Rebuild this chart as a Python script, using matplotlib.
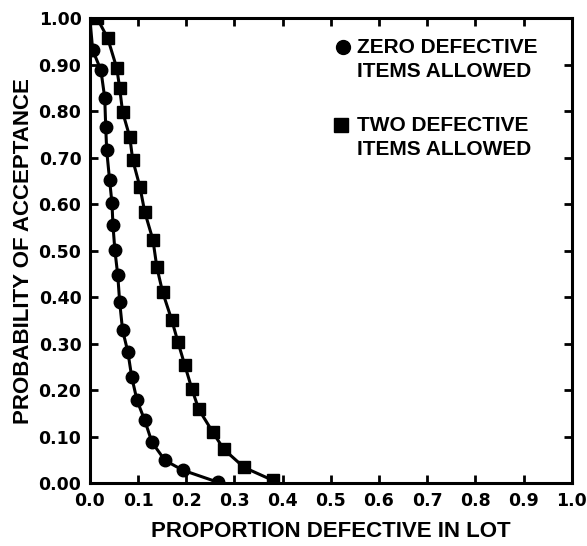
import matplotlib

matplotlib.use("Agg")
import matplotlib.pyplot as plt

# proportion defective vs probability of acceptance
zero_p = [0.0, 0.006, 0.023, 0.031, 0.033, 0.035, 0.041, 0.046, 0.048, 0.052, 0.058,
          0.062, 0.068, 0.079, 0.087, 0.098, 0.114, 0.129, 0.156, 0.193, 0.266]
zero_pa = [1.0, 0.931, 0.888, 0.828, 0.766, 0.716, 0.652, 0.602, 0.555, 0.501, 0.447,
           0.389, 0.329, 0.282, 0.228, 0.178, 0.135, 0.088, 0.049, 0.028, 0.002]

two_p = [0.015, 0.037, 0.056, 0.062, 0.068, 0.083, 0.089, 0.104, 0.114, 0.131, 0.139,
         0.151, 0.170, 0.183, 0.197, 0.212, 0.226, 0.255, 0.278, 0.320, 0.380]
two_pa = [1.0, 0.957, 0.892, 0.849, 0.798, 0.744, 0.695, 0.637, 0.583, 0.523, 0.465,
          0.411, 0.351, 0.303, 0.254, 0.202, 0.159, 0.110, 0.073, 0.034, 0.006]

x_ticks = [0.0, 0.1, 0.2, 0.3, 0.4, 0.5, 0.6, 0.7, 0.8, 0.9, 1.0]
y_ticks = [0.0, 0.1, 0.2, 0.3, 0.4, 0.5, 0.6, 0.7, 0.8, 0.9, 1.0]

label_font = {"family": "Liberation Sans", "weight": "bold", "size": 16}
tick_font = {"family": "DejaVu Sans", "weight": "bold", "size": 12.5}

fig = plt.figure(figsize=(5.87, 5.46), dpi=100)
ax = fig.add_axes([0.153, 0.115, 0.821, 0.852])

ax.plot(zero_p, zero_pa, color="black", lw=2.2, marker="o", ms=9, zorder=3)
ax.plot(two_p, two_pa, color="black", lw=2.2, marker="s", ms=9, zorder=3)

ax.set_xlim(0, 1.0)
ax.set_ylim(0, 1.0)
ax.set_xticks(x_ticks)
ax.set_yticks(y_ticks)
ax.set_xticklabels([f"{v:.1f}" for v in x_ticks], fontdict=tick_font)
ax.set_yticklabels([f"{v:.2f}" for v in y_ticks], fontdict=tick_font)
ax.tick_params(direction="in", length=6, width=2, top=True, right=True, pad=6)
for s in ax.spines.values():
    s.set_linewidth(2.2)

ax.set_xlabel("PROPORTION DEFECTIVE IN LOT", fontdict=label_font, labelpad=8)
ax.set_ylabel("PROBABILITY OF ACCEPTANCE", fontdict=label_font, labelpad=3)

# hand-made legend, marker next to first line of each entry
legend_font = {"family": "Liberation Sans", "weight": "bold", "size": 15}
ax.plot([0.526], [0.937], marker="o", ms=10, color="black", transform=ax.transAxes, clip_on=False)
ax.text(0.555, 0.937, "ZERO DEFECTIVE", fontdict=legend_font, va="center", transform=ax.transAxes)
ax.text(0.555, 0.884, "ITEMS ALLOWED", fontdict=legend_font, va="center", transform=ax.transAxes)
ax.plot([0.522], [0.770], marker="s", ms=10, color="black", transform=ax.transAxes, clip_on=False)
ax.text(0.555, 0.770, "TWO DEFECTIVE", fontdict=legend_font, va="center", transform=ax.transAxes)
ax.text(0.555, 0.718, "ITEMS ALLOWED", fontdict=legend_font, va="center", transform=ax.transAxes)

fig.savefig("out.png", dpi=100)
